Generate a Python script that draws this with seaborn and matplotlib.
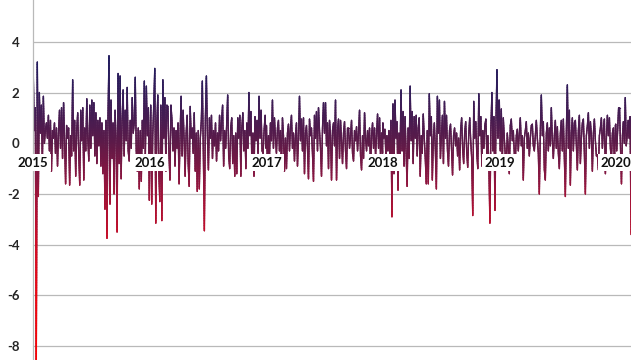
import numpy as np
import pandas as pd
import matplotlib
matplotlib.use("Agg")
import matplotlib.pyplot as plt
import matplotlib.dates as mdates
from matplotlib.collections import LineCollection
from matplotlib.colors import LinearSegmentedColormap, Normalize
import seaborn as sns

# daily % change (about one value per pixel column)
returns_2015 = [
    2.7, 0.5, 1.4, -8.6, 3.2, -2.1, 2.0, 0.4, 1.5, -0.8,
    1.85, 0.0, 0.5, 0.8, 0.2, 1.1, -0.3, 0.9, -1.1, 0.5,
    0.2, 0.8, -0.4, 0.6, -0.9, 0.4, 1.3, -0.2, 1.4, -0.6,
    1.6, 0.1, -1.6, 0.7, 0.2, 0.6, -1.65, 0.3, -0.5, 2.5,
    -0.3, 0.9, -1.3, 0.5, 1.2, -0.4, -1.65, 1.3, 0.1, 1.4,
    -1.45, 0.6, -0.3, 1.75, 0.2, -0.7, 1.5, -0.2, 1.7, 0.3,
    1.6, -0.5, 1.2, -0.8, 0.9, -0.1, 1.0, -0.9, 0.8, -1.2,
    0.5, -2.6, 0.9, -3.75, 1.0, 3.45, -2.4, 1.7, -0.6, 0.8,
    -2.0, 1.3, 0.2, -3.5, 2.75, -0.8, 2.65, -1.4, 0.9, 2.1,
    -0.5, 1.3, 0.1, 2.2, -0.3, -0.7, 0.9, -0.2, 1.8, 0.4,
    0.8, 2.6, -0.3, -1.1, 0.6, -1.8, 0.5, -1.5, 0.9, -0.2,
    2.45, -0.5, 2.25, 0.3, 1.4, -2.25,
]
returns_2016 = [
    -0.6, 1.5, -2.4, 0.3, 1.5, 2.95, -3.15, 0.7, 1.9, -1.2,
    -2.3, 1.5, -3.05, 2.5, 0.2, 1.8, -1.1, 1.5, 1.45, -0.4,
    -1.45, 1.5, 0.9, -0.3, 0.6, -0.9, 0.5, -0.2, 0.8, -1.6,
    0.3, 1.85, -0.5, 1.3, 0.1, -1.3, 0.4, 1.1, -0.8, -1.7,
    1.45, 0.2, 0.6, -0.4, 1.2, -1.1, 0.4, -1.9, 0.5, -1.8,
    0.2, 0.9, 2.45, -0.4, -3.45, 1.0, 2.65, 0.3, -1.05, 1.0,
    0.2, 1.1, -0.6, 0.5, -0.1, 0.8, -0.7, 0.4, -0.3, 1.1,
    0.1, 0.9, 1.5, -0.9, 0.5, -0.2, 0.7, 1.9, -0.5, -1.0,
    0.6, 1.0, -0.8, 0.3, -1.3, 0.4, -1.2, 1.0, 0.2, 1.1,
    -1.3, 0.6, 1.2, -0.3, 0.5, -1.0, 0.8, -0.2, 2.0, 0.3,
    1.25, -1.05, 0.4, -1.3, 1.05, 0.1, 0.9, -0.4, 1.85, 0.2,
    1.3, -0.3, -0.4, 0.5, 1.1, -0.2,
]
returns_2017 = [
    0.7, -0.9, 0.3, -0.6, 0.8, 0.1, 1.7, -0.2, 1.0, 0.2,
    -0.4, 0.6, 0.9, -0.3, 0.5, -1.0, 1.0, 0.3, -1.1, 0.2,
    -1.0, 0.4, 0.75, -0.3, 0.6, 1.1, -0.2, 0.4, -0.7, 0.3,
    0.8, -0.9, 0.2, 1.85, 0.1, 0.95, -0.3, 1.0, -1.2, 0.4,
    0.7, -0.2, -1.4, 0.95, 0.3, 0.6, -0.4, -1.5, 1.1, 0.2,
    1.25, -0.3, 1.4, 0.5, -0.2, -1.3, 0.6, 1.6, 0.4, 1.6,
    -0.1, 0.8, -1.0, 0.9, 0.3, -1.45, 0.5, 0.8, -0.1, 1.7,
    -1.45, 0.5, 0.95, -0.6, 0.9, 0.1, -0.8, 0.4, 0.85, -0.3,
    -1.0, 0.6, 0.6, -0.2, 0.3, 0.9, -0.4, -0.7, 0.5, 0.1,
    0.65, -0.3, 0.4, 1.3, -0.5, -1.05, 0.3, -0.6, 1.2, 0.2,
    -0.3, 0.5, -0.1, 0.6, -1.0, 0.3, 0.8, -0.2, 0.6, -0.5,
    0.3, 1.15, -0.2, 1.0, -0.6, 0.4, -0.4,
]
returns_2018 = [
    0.8, 0.2, 0.55, -0.5, 0.3, -0.3, 0.5, -0.6, 0.9, -2.9,
    1.55, -1.2, 1.7, 0.2, 0.85, -1.85, 0.4, -0.5, 2.1, -0.3,
    1.25, -0.9, 1.05, -0.4, -1.7, 0.6, -0.6, 2.25, 0.1, 1.25,
    -0.8, 1.05, 0.2, 1.1, -0.5, 0.6, 1.0, -1.3, 0.3, -0.4,
    1.15, 0.2, -0.6, -1.6, 0.5, -1.6, 1.95, 0.3, 1.05, -1.45,
    0.2, 0.8, -0.3, -1.8, 1.85, 0.4, 1.7, -0.6, 0.3, 1.1,
    -0.8, 1.65, 0.2, 1.1, -0.3, -0.9, 0.5, 0.75, -0.2, -1.25,
    0.3, 0.6, -0.1, 0.4, -0.5, 0.2, -1.05, 0.5, 1.0, -0.2,
    -0.8, 0.4, 0.85, -0.3, -0.95, 0.3, 1.0, 0.1, -0.6, -2.85,
    1.65, 0.2, 0.85, -0.4, -1.0, 1.95, 0.3, 1.05, -0.9, 0.5,
    -0.2, 0.7, 0.95, -0.5, 0.3, -0.9, -3.15, 0.6, 2.0, -0.3,
    1.05, -2.65, 0.8, 2.9, 0.2, 1.7,
]
returns_2019 = [
    1.7, -0.3, 1.35, -0.8, 1.0, 0.2, -0.5, -0.9, 0.4, -0.2,
    -1.2, 0.7, 0.95, 0.1, 0.5, -0.4, -0.7, 0.3, 0.55, -0.3,
    0.4, 1.0, -0.1, 0.3, -1.45, 0.2, 0.5, 0.85, -0.2, 0.4,
    -0.5, 0.2, 0.7, 0.75, -0.1, -0.3, 0.3, 0.9, 0.2, -0.4,
    -2.0, 0.5, 1.9, 0.3, 0.85, -1.05, -1.45, 0.4, 0.8, -0.3,
    0.6, -0.1, 1.4, 0.1, -0.6, 0.3, 0.9, -0.2, 0.65, -0.4,
    -1.0, 0.4, 0.9, -0.3, 0.95, -0.6, -2.1, 0.5, 2.3, -0.2,
    1.3, -1.65, 0.4, 1.0, -0.3, 0.8, 0.9, -0.1, -1.05, 0.5,
    1.1, -0.8, 0.2, 0.8, 0.95, -0.4, -2.0, 0.3, 0.7, 1.2,
    -0.2, 0.85, 0.3, -1.1, 0.4, 0.95, 0.1, -0.5, -0.45, -1.05,
    0.3, 0.6, 1.0, -0.2, 0.5, 0.95, -1.2, 0.2, 1.1, 0.3,
    1.0, -0.2, -0.7, 0.4, 0.6, -0.9, 0.7,
]
returns_2020 = [
    0.75, -0.3, 0.5, 1.4, 1.4, -0.2, -1.6, 0.3, 0.85, 0.0,
    1.8, -0.1, 0.3, 0.9, 0.2, 1.05, -3.6,
]
years = [2015, 2016, 2017, 2018, 2019, 2020]
year_ends = ["2015-12-31", "2016-12-31", "2017-12-31", "2018-12-31",
             "2019-12-31", "2020-02-18"]
yticks = [-8, -6, -4, -2, 0, 2, 4]

series = [returns_2015, returns_2016, returns_2017, returns_2018,
          returns_2019, returns_2020]
frames = []
for yr, end, vals in zip(years, year_ends, series):
    d = pd.date_range(f"{yr}-01-01", end, periods=len(vals))
    frames.append(pd.DataFrame({"date": d, "change": vals}))
df = pd.concat(frames, ignore_index=True)

sns.set_style("white")
plt.rcParams["font.family"] = ["Lato", "DejaVu Sans"]

fig = plt.figure(figsize=(6.4, 3.6), dpi=100)
ax = fig.add_axes([0.052, 0.0, 0.934, 1.0])

grid_col = "#b9b9b9"
for v in yticks:
    ax.axhline(v, color=grid_col, lw=0.9, zorder=0)

# base line through seaborn, then vertical colour gradient on top
sns.lineplot(data=df, x="date", y="change", ax=ax, color="#5e1a48", lw=0.9, zorder=1)

cmap = LinearSegmentedColormap.from_list("grad", [
    (0.0, "#ff0000"), (0.21, "#f2040c"), (0.38, "#d30a22"), (0.545, "#a01238"),
    (0.628, "#801742"), (0.711, "#5e1a48"), (0.793, "#461c52"),
    (0.876, "#321d5a"), (1.0, "#1c1c60")])
norm = Normalize(vmin=-8.6, vmax=3.5)

xs = mdates.date2num(df["date"])
ys = df["change"].to_numpy()
segs, vals = [], []
for i in range(len(xs) - 1):
    n = max(1, int(np.ceil(abs(ys[i + 1] - ys[i]) / 0.1)))
    t = np.linspace(0, 1, n + 1)
    px = xs[i] + (xs[i + 1] - xs[i]) * t
    py = ys[i] + (ys[i + 1] - ys[i]) * t
    for k in range(n):
        segs.append([(px[k], py[k]), (px[k + 1], py[k + 1])])
        vals.append((py[k] + py[k + 1]) / 2)
lc = LineCollection(segs, colors=cmap(norm(np.array(vals))), linewidths=1.0,
                    capstyle="round", zorder=2)
ax.add_collection(lc)

ax.set_xlim(xs[0], xs[-1])
ax.set_ylim(-8.55, 5.65)
ax.set_xticks([])
ax.set_yticks(yticks)
ax.set_yticklabels([str(v) for v in yticks], fontweight="bold", fontsize=9.5,
                   color="#262626")
ax.tick_params(axis="y", length=0, pad=10)
ax.set_xlabel("")
ax.set_ylabel("")
for s in ["top", "right", "bottom"]:
    ax.spines[s].set_visible(False)
ax.spines["left"].set_color(grid_col)
ax.spines["left"].set_linewidth(0.9)

for yr in years:
    ax.text(mdates.date2num(pd.Timestamp(f"{yr}-01-01")), -0.76, str(yr),
            ha="center", va="center", fontsize=9.5, fontweight="bold",
            color="#111111", zorder=5, clip_on=False,
            bbox=dict(boxstyle="square,pad=0.18", fc="white", ec="none"))

fig.savefig("out.png", dpi=100)
